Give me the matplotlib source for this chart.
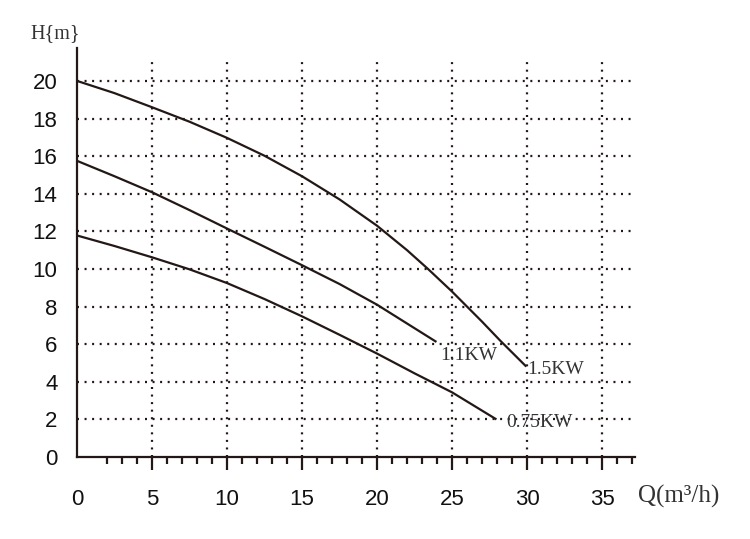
import numpy as np
import matplotlib.pyplot as plt

# pump curves: flow Q (m3/h) vs head H (m)
q_15 = [0, 2.5, 5, 7.5, 10, 12.5, 15, 17.5, 20, 22, 23.4, 25, 26, 27, 28.2, 29.9]
h_15 = [20.0, 19.35, 18.6, 17.83, 16.97, 16.02, 14.93, 13.7, 12.3, 11.0, 10.0, 8.8,
        8.0, 7.2, 6.2, 4.85]

q_11 = [0, 2.5, 5, 7.5, 10, 12.5, 15, 17.5, 20, 22, 23.9]
h_11 = [15.75, 14.93, 14.08, 13.13, 12.15, 11.18, 10.2, 9.2, 8.1, 7.1, 6.15]

q_075 = [0, 2.5, 5, 7.5, 10, 12.5, 15, 17.5, 20, 22.5, 25, 27.9]
h_075 = [11.78, 11.22, 10.62, 9.98, 9.25, 8.4, 7.48, 6.5, 5.5, 4.45, 3.44, 2.03]

curve_labels = ["1.5KW", "1.1KW", "0.75KW"]
x_ticks = [0, 5, 10, 15, 20, 25, 30, 35]
y_ticks = [0, 2, 4, 6, 8, 10, 12, 14, 16, 18, 20]

ink = "#231815"
dots = (0, (0.9, 2.5))

fig = plt.figure(figsize=(7.5, 5.39), dpi=100)
ax = fig.add_axes([77 / 750, 82 / 539, 558 / 750, 409 / 539])
ax.set_xlim(0, 37.2)
ax.set_ylim(0, 21.75)

# dotted grid
for y in y_ticks[1:]:
    ax.plot([0, 37.0], [y, y], color=ink, lw=1.6, linestyle=dots, zorder=1)
for x in x_ticks[1:]:
    ax.plot([x, x], [0, 21.0], color=ink, lw=1.6, linestyle=dots, zorder=1)

# curves
ax.plot(q_15, h_15, color=ink, lw=1.6, zorder=3)
ax.plot(q_11, h_11, color=ink, lw=1.6, zorder=3)
ax.plot(q_075, h_075, color=ink, lw=1.6, zorder=3)

lab_font = dict(family="Liberation Serif", fontsize=14, color="#333333")
ax.text(30.0, 4.65, curve_labels[0], ha="left", va="center", **lab_font)
ax.text(24.2, 5.4, curve_labels[1], ha="left", va="center", **lab_font)
ax.text(28.6, 1.86, curve_labels[2], ha="left", va="center", **lab_font)

# axes styling
for side in ["top", "right"]:
    ax.spines[side].set_visible(False)
for side in ["left", "bottom"]:
    ax.spines[side].set_linewidth(1.6)
    ax.spines[side].set_color(ink)

ax.set_xticks(x_ticks)
ax.set_xticks(np.arange(0, 38, 1), minor=True)
ax.set_yticks(y_ticks)
ax.tick_params(axis="x", which="major", direction="out", length=9, width=1.6,
               color=ink, pad=14, labelsize=16, labelcolor="#111111")
ax.tick_params(axis="x", which="minor", direction="out", length=5, width=1.6, color=ink)
ax.tick_params(axis="y", length=0, pad=14, labelsize=16, labelcolor="#111111")
for lbl in ax.get_xticklabels() + ax.get_yticklabels():
    lbl.set_family("Liberation Sans")
ax.xaxis.get_major_ticks()[0].tick1line.set_visible(False)
ax.xaxis.get_minor_ticks()[0].tick1line.set_visible(False)

fig.text(30 / 750, 1 - 34 / 539, "H{m}", family="Liberation Serif", fontsize=14.5,
         color="#333333", ha="left", va="center")
fig.text(638 / 750, 1 - 496 / 539, "Q(m³/h)", family="Liberation Serif", fontsize=18,
         color="#333333", ha="left", va="center")

fig.savefig("out.png", dpi=100)
